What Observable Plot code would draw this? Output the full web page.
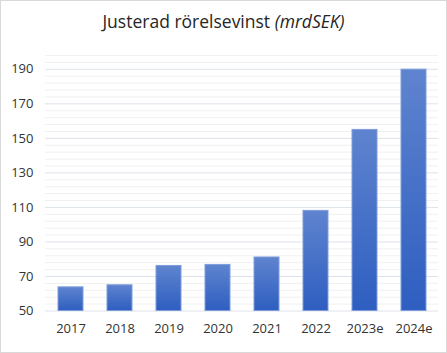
<!DOCTYPE html>
<html>
<head>
<meta charset="utf-8">
<script src="https://cdn.jsdelivr.net/npm/d3@7"></script>
<script src="https://cdn.jsdelivr.net/npm/@observablehq/plot@0.6"></script>
<style>
  html, body { margin: 0; padding: 0; background: #fff; }
  #frame { width: 447px; height: 353px; box-sizing: border-box; border: 1px solid #d9d9d9; background: #fff; overflow: hidden; }
  #title { height: 40px; box-sizing: border-box; padding-top: 10px; text-align: center; font-family: "Open Sans", sans-serif; font-size: 17.5px; line-height: 20px; color: #262626; }
  #chart svg { display: block; }
</style>
</head>
<body>
<div id="frame">
  <div id="title">Justerad rörelsevinst <i>(mrdSEK)</i></div>
  <div id="chart"></div>
</div>
<script>
const years = ["2017", "2018", "2019", "2020", "2021", "2022", "2023e", "2024e"];
const values = [63.7, 64.9, 76.1, 76.7, 81.0, 108.0, 154.9, 189.8];
const yTicks = [50, 70, 90, 110, 130, 150, 170, 190];
const minorTicks = [54, 58, 62, 66, 74, 78, 82, 86, 94, 98, 102, 106, 114, 118, 122, 126, 134, 138, 142, 146, 154, 158, 162, 166, 174, 178, 182, 186, 194, 198];

const data = years.map((y, i) => ({year: y, value: values[i]}));

const plot = Plot.plot({
  width: 445,
  height: 311,
  marginLeft: 44,
  marginRight: 8,
  marginTop: 14,
  marginBottom: 41.5,
  style: {fontFamily: "'Open Sans', sans-serif", fontSize: "13px", color: "#333", background: "transparent"},
  x: {domain: years, paddingInner: 0.5, paddingOuter: 0.25, label: null},
  y: {domain: [50, 198], label: null},
  marks: [
    Plot.ruleY(minorTicks, {stroke: "#f0f0f0", strokeWidth: 1}),
    Plot.ruleY(yTicks, {stroke: "#dde2ea", strokeWidth: 1}),
    Plot.barY(data, {x: "year", y1: 50, y2: "value", fill: "url(#barGrad)", stroke: "#7f9ddb", strokeWidth: 1}),
    Plot.axisY(yTicks, {tickSize: 0, tickPadding: 12, label: null, fontSize: 13, fill: "#333"}),
    Plot.axisX({tickSize: 0, tickPadding: 13, label: null, fontSize: 13, fill: "#333"})
  ]
});

const defs = d3.select(plot).insert("defs", ":first-child");
const grad = defs.append("linearGradient").attr("id", "barGrad").attr("x1", 0).attr("y1", 0).attr("x2", 0).attr("y2", 1);
grad.append("stop").attr("offset", "0%").attr("stop-color", "#5f84cf");
grad.append("stop").attr("offset", "100%").attr("stop-color", "#2e5ec0");

document.getElementById("chart").appendChild(plot);
</script>
</body>
</html>
